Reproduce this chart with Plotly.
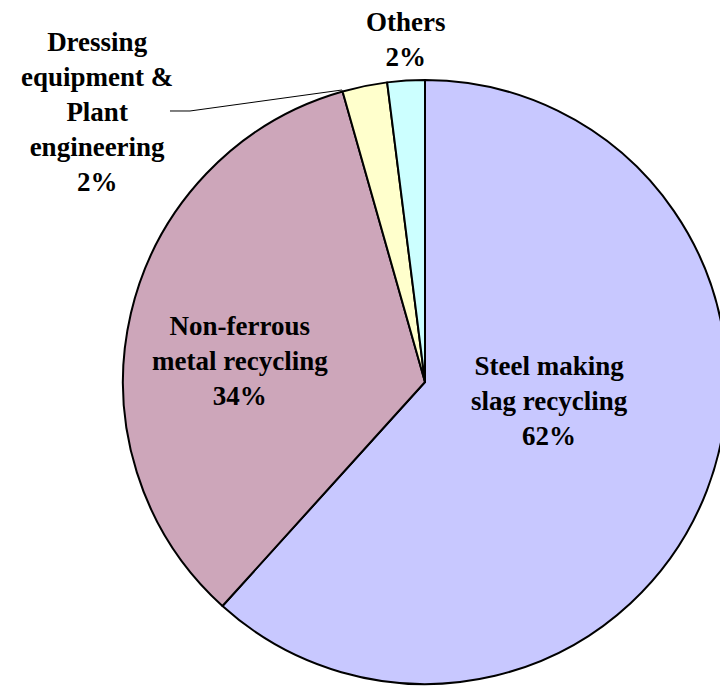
import plotly.graph_objects as go

categories = ["Steel making<br>slag recycling", "Non-ferrous<br>metal recycling",
              "Dressing<br>equipment &<br>Plant<br>engineering", "Others"]
values = [61.7, 33.9, 2.4, 2.0]
colors = ["#C8C8FF", "#CDA6BA", "#FFFFCC", "#CCFFFF"]

W, H = 728, 688
OFF = 8  # page body margin
cx, cy, r = 425 - OFF, 382 - OFF, 302

fig = go.Figure(go.Pie(
    labels=categories,
    values=values,
    sort=False,
    direction="clockwise",
    rotation=0,
    textinfo="none",
    hoverinfo="label+percent",
    marker=dict(colors=colors, line=dict(color="black", width=2)),
    domain=dict(x=[(cx - r) / W, (cx + r) / W], y=[(H - cy - r) / H, (H - cy + r) / H]),
    showlegend=False,
))

total = sum(values)
label_pos = [(549, 401), (240, 361), (97, 112), (406, 40)]
font = dict(family="Times New Roman, Liberation Serif, DejaVu Serif, serif", size=27, color="black")
for cat, v, (x, y) in zip(categories, values, label_pos):
    fig.add_annotation(
        x=(x - OFF) / W, y=1 - (y - OFF) / H, xref="paper", yref="paper",
        text="<b>%s<br>%d%%</b>" % (cat, round(v / total * 100)),
        showarrow=False, font=font, align="center",
        xanchor="center", yanchor="middle",
    )

# leader line for the Dressing label
pts = [(170, 111), (190, 111), (342, 90)]
path = "M " + " L ".join("%f,%f" % ((x - OFF) / W, 1 - (y - OFF) / H) for x, y in pts)
fig.add_shape(type="path", xref="paper", yref="paper", path=path,
              line=dict(color="black", width=1))

fig.update_layout(
    width=W, height=H,
    margin=dict(l=0, r=0, t=0, b=0),
    paper_bgcolor="white", plot_bgcolor="white",
)
fig.write_html("out.html")
